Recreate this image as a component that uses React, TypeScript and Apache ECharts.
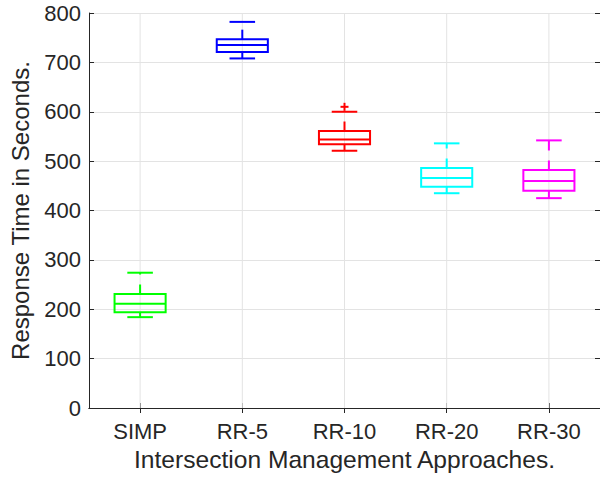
import React, { useEffect, useRef } from 'react';
import * as echarts from 'echarts';

const categories = ['SIMP', 'RR-5', 'RR-10', 'RR-20', 'RR-30'];
const lowerWhisker = [184, 708, 521, 435, 425];
const q1 = [194, 721, 534, 448, 440];
const median = [211, 735, 544, 466, 460];
const q3 = [231, 747, 561, 486, 482];
const upperWhisker = [274, 782, 600, 536, 542];
const outlierCategory = [2];
const outlierValue = [610];
const boxColors = ['#00ff00', '#0000ff', '#ff0000', '#00ffff', '#ff00ff'];
const yMin = 0;
const yMax = 800;
const yInterval = 100;

const FONT = "'Liberation Sans', Arial, Helvetica, sans-serif";
const AXIS_COLOR = '#262626';
const GRID_COLOR = '#e3e3e3';

export default function App() {
  const ref = useRef<HTMLDivElement>(null);

  useEffect(() => {
    if (!ref.current) return;
    const chart = echarts.init(ref.current, null, { renderer: 'svg' });

    const boxData = categories.map((_, i) => [
      i,
      lowerWhisker[i],
      q1[i],
      median[i],
      q3[i],
      upperWhisker[i],
    ]);
    const outlierData = outlierCategory.map((c, i) => [c, outlierValue[i]]);

    const option: any = {
      animation: false,
      backgroundColor: '#ffffff',
      textStyle: { fontFamily: FONT },
      grid: { left: 83, top: 13, right: -4, bottom: 71, containLabel: false },
      xAxis: [
        {
          type: 'category',
          data: categories,
          position: 'bottom',
          boundaryGap: true,
          axisLine: { show: true, lineStyle: { color: AXIS_COLOR, width: 1 } },
          axisTick: { show: true, inside: true, alignWithLabel: true, length: 5, lineStyle: { color: AXIS_COLOR } },
          axisLabel: { color: AXIS_COLOR, fontSize: 22, margin: 12, fontFamily: FONT },
          splitLine: { show: false },
          name: 'Intersection Management Approaches.',
          nameLocation: 'middle',
          nameGap: 33,
          nameTextStyle: { color: AXIS_COLOR, fontSize: 24.6, fontFamily: FONT, verticalAlign: 'top' },
        },
        {
          type: 'category',
          data: categories,
          position: 'top',
          boundaryGap: true,
          axisLine: { show: true, lineStyle: { color: AXIS_COLOR, width: 1 } },
          axisTick: { show: true, inside: true, alignWithLabel: true, length: 5, lineStyle: { color: AXIS_COLOR } },
          axisLabel: { show: false },
          splitLine: { show: false },
        },
      ],
      yAxis: [
        {
          type: 'value',
          min: yMin,
          max: yMax,
          interval: yInterval,
          position: 'left',
          axisLine: { show: true, lineStyle: { color: AXIS_COLOR, width: 1 } },
          axisTick: { show: true, inside: true, length: 5, lineStyle: { color: AXIS_COLOR } },
          axisLabel: { color: AXIS_COLOR, fontSize: 22, margin: 8, fontFamily: FONT },
          splitLine: { show: true, lineStyle: { color: GRID_COLOR, width: 1 } },
          name: 'Response Time in Seconds.',
          nameLocation: 'middle',
          nameGap: 57,
          nameRotate: 90,
          nameTextStyle: { color: AXIS_COLOR, fontSize: 24, fontFamily: FONT },
        },
        {
          type: 'value',
          min: yMin,
          max: yMax,
          interval: yInterval,
          position: 'right',
          axisLine: { show: true, lineStyle: { color: AXIS_COLOR, width: 1 } },
          axisTick: { show: true, inside: true, length: 5, lineStyle: { color: AXIS_COLOR } },
          axisLabel: { show: false },
          splitLine: { show: false },
        },
      ],
      series: [
        {
          type: 'custom',
          xAxisIndex: 0,
          yAxisIndex: 0,
          z: 3,
          encode: { x: 0, y: [1, 2, 3, 4, 5] },
          data: boxData,
          renderItem: (params: any, api: any) => {
            const i = api.value(0);
            const lo = api.value(1);
            const a = api.value(2);
            const m = api.value(3);
            const b = api.value(4);
            const hi = api.value(5);
            const bw = api.size([1, 0])[0];
            const half = bw * 0.25;
            const capHalf = bw * 0.125;
            const x = api.coord([i, lo])[0];
            const yLo = api.coord([i, lo])[1];
            const yA = api.coord([i, a])[1];
            const yM = api.coord([i, m])[1];
            const yB = api.coord([i, b])[1];
            const yHi = api.coord([i, hi])[1];
            const yBottom = api.coord([i, yMin])[1];
            const yTop = api.coord([i, yMax])[1];
            const color = boxColors[params.dataIndex];
            const solid = { stroke: color, lineWidth: 2, fill: null };
            const dashed = { stroke: color, lineWidth: 2, fill: null, lineDash: [9.5, 10] };
            return {
              type: 'group',
              children: [
                { type: 'line', shape: { x1: x, y1: yBottom, x2: x, y2: yTop }, style: { stroke: GRID_COLOR, lineWidth: 1 } },
                { type: 'line', shape: { x1: x, y1: yB, x2: x, y2: yHi }, style: dashed },
                { type: 'line', shape: { x1: x, y1: yA, x2: x, y2: yLo }, style: dashed },
                { type: 'line', shape: { x1: x - capHalf, y1: yHi, x2: x + capHalf, y2: yHi }, style: solid },
                { type: 'line', shape: { x1: x - capHalf, y1: yLo, x2: x + capHalf, y2: yLo }, style: solid },
                { type: 'rect', shape: { x: x - half, y: yB, width: half * 2, height: yA - yB }, style: solid },
                { type: 'line', shape: { x1: x - half, y1: yM, x2: x + half, y2: yM }, style: solid },
              ],
            };
          },
        },
        {
          type: 'custom',
          xAxisIndex: 0,
          yAxisIndex: 0,
          z: 4,
          encode: { x: 0, y: 1 },
          data: outlierData,
          renderItem: (params: any, api: any) => {
            const c = api.value(0);
            const v = api.value(1);
            const [x, y] = api.coord([c, v]);
            const color = boxColors[c];
            const st = { stroke: color, lineWidth: 2, fill: null };
            return {
              type: 'group',
              children: [
                { type: 'line', shape: { x1: x - 4, y1: y, x2: x + 4, y2: y }, style: st },
                { type: 'line', shape: { x1: x, y1: y - 4, x2: x, y2: y + 4 }, style: st },
              ],
            };
          },
        },
      ],
    };

    chart.setOption(option);
    return () => {
      chart.dispose();
    };
  }, []);

  return (
    <div
      ref={ref}
      style={{ position: 'absolute', left: 0, top: 0, width: 600, height: 479, background: '#fff' }}
    />
  );
}
